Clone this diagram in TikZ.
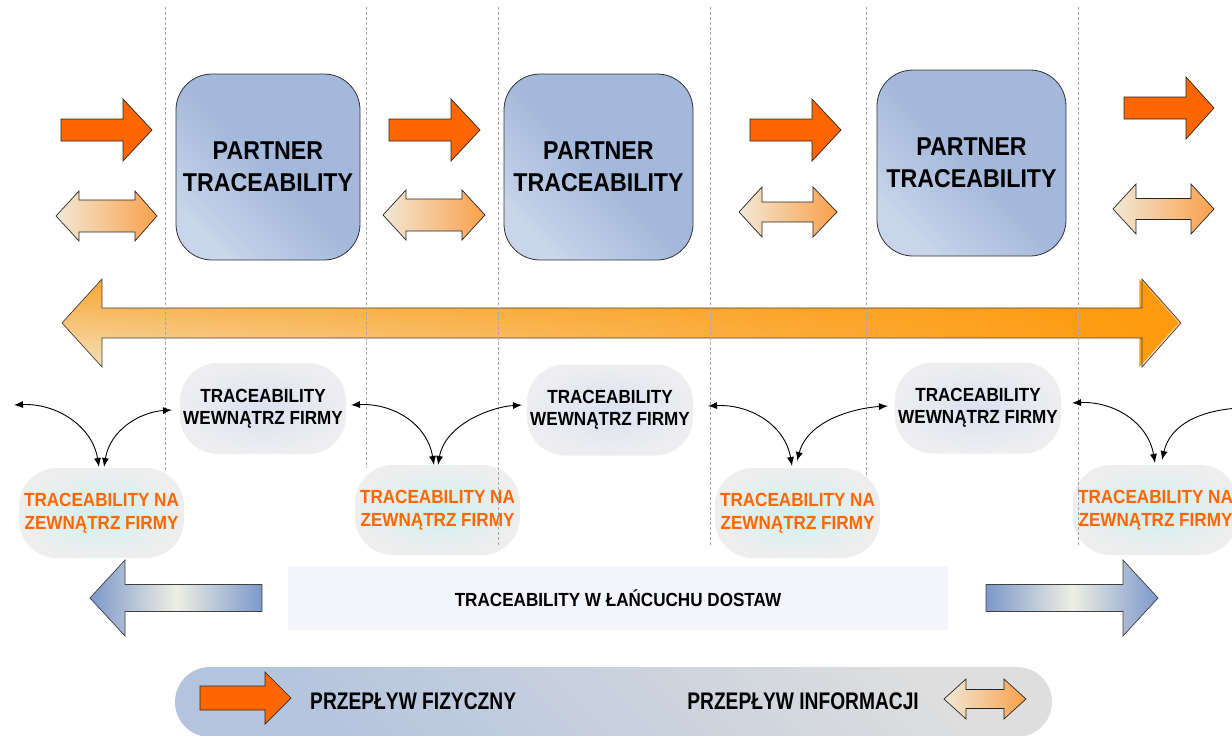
\documentclass[tikz,border=0pt]{standalone}
\usepackage{fontspec}
\setmainfont[FakeStretch=0.9]{Liberation Sans}
\newfontfamily\legfont[FakeStretch=0.8]{Liberation Sans}
\usetikzlibrary{arrows.meta,fadings}
\definecolor{physc}{HTML}{FF6600}
\definecolor{infoL}{HTML}{F2E8D6}
\definecolor{infoR}{HTML}{F9A04A}
\definecolor{bigO}{HTML}{FF9A0C}
\definecolor{bigT}{HTML}{FAA634}
\definecolor{bigC}{HTML}{F4E2BE}
\definecolor{pbtop}{HTML}{A3B8DB}
\definecolor{pbbot}{HTML}{C8D5EA}
\definecolor{wIn}{HTML}{DAE1F1}
\definecolor{wOut}{HTML}{EEEEF0}
\definecolor{nIn}{HTML}{CFF0F0}
\definecolor{nOut}{HTML}{EEEEEE}
\definecolor{blueA}{HTML}{7E98CB}
\definecolor{blueM}{HTML}{EDEFE3}
\definecolor{midfill}{HTML}{F3F5FA}
\definecolor{legBlue}{HTML}{B3C4DE}
\definecolor{legGray}{HTML}{DEDEDE}
\definecolor{sepc}{HTML}{A8A8A8}
\newcommand{\RArr}[7]{\path[#7] (#1,#4-#5) -- (#3,#4-#5) -- (#3,#4-#6) -- (#2,#4) -- (#3,#4+#6) -- (#3,#4+#5) -- (#1,#4+#5) -- cycle;}
\newcommand{\DArr}[8]{\path[#8] (#1,#5) -- (#2,#5-#7) -- (#2,#5-#6) -- (#3,#5-#6) -- (#3,#5-#7) -- (#4,#5) -- (#3,#5+#7) -- (#3,#5+#6) -- (#2,#5+#6) -- (#2,#5+#7) -- cycle;}
\begin{document}
\begin{tikzpicture}[x=1pt,y=-1pt,
  phys/.style={fill=physc, draw=black!85, line width=0.7pt},
  info/.style={left color=infoL, right color=infoR, draw=black!85, line width=0.7pt},
  bigbase/.style={top color=bigT, bottom color=bigC},
  bigover/.style={fill=bigO, path fading=west},
  bigline/.style={draw=black!75, line width=0.7pt},
  bluearr/.style={left color=blueA, right color=blueA, middle color=blueM, draw=black!75, line width=0.7pt},
  sep/.style={draw=sepc, line width=0.8pt, dash pattern=on 3pt off 2pt},
  partner/.style={draw=black!80, line width=0.8pt, rounded corners=36pt, minimum width=189pt, minimum height=186pt, inner sep=0pt, top color=pbtop, bottom color=pbbot, middle color=pbtop, shading angle=-45, align=center, font=\fontsize{25.8}{32}\selectfont\bfseries},
  wbox/.style={rounded corners=38pt, minimum width=166pt, minimum height=91pt, inner sep=0pt, inner color=wIn, outer color=wOut, align=center, font=\fontsize{19}{22}\selectfont\bfseries},
  nbox/.style={rounded corners=38pt, minimum width=165pt, minimum height=90pt, inner sep=0pt, inner color=nIn, outer color=nOut, align=center, text=physc, font=\fontsize{19}{23}\selectfont\bfseries},
  midlab/.style={fill=midfill, minimum width=660pt, minimum height=64pt, inner sep=0pt, font=\fontsize{19}{22}\selectfont\bfseries},
  legbox/.style={rounded corners=35pt, minimum width=877pt, minimum height=70pt, inner sep=0pt, top color=legGray, bottom color=legBlue, shading angle=-45},
  legtext/.style={inner sep=0pt, font=\legfont\fontsize{24}{28}\selectfont\bfseries},
  conn/.style={line width=0.9pt, {Latex[length=9pt,width=7pt]}-{Latex[length=9pt,width=7pt]}},
  conn1/.style={line width=0.9pt, -{Latex[length=9pt,width=7pt]}}
]
\useasboundingbox (0,0) rectangle (1232,736);

% big double arrow
\DArr{62}{102}{1142}{1181}{323}{15}{44}{bigbase}
\DArr{62}{102}{1142}{1181}{323}{15}{44}{bigover}
\DArr{62}{102}{1142}{1181}{323}{15}{44}{bigline}

% physical flow arrows
\RArr{61}{152}{123}{130}{11}{31}{phys}
\RArr{389}{480}{451}{130}{11}{31}{phys}
\RArr{750}{841}{812}{130}{11}{31}{phys}
\RArr{1124}{1214}{1186}{108}{11}{31}{phys}

% information flow arrows
\DArr{56}{79}{135}{157}{216}{16}{25}{info}
\DArr{383}{406}{462}{485}{215}{16}{25}{info}
\DArr{739}{762}{813}{837}{212}{10}{25}{info}
\DArr{1113}{1136}{1191}{1214}{209}{10.5}{25}{info}

% partner boxes
\node[partner, minimum width=184pt] (P1) at (268,167) {PARTNER\\TRACEABILITY};
\node[partner] (P2) at (598.5,167) {PARTNER\\TRACEABILITY};
\node[partner] (P3) at (971.5,163) {PARTNER\\TRACEABILITY};

% internal traceability
\node[wbox] (W1) at (263,408.5) {TRACEABILITY\\WEWNĄTRZ FIRMY};
\node[wbox] (W2) at (610,410) {TRACEABILITY\\WEWNĄTRZ FIRMY};
\node[wbox] (W3) at (978,408) {TRACEABILITY\\WEWNĄTRZ FIRMY};

% external traceability
\node[nbox] (N1) at (101.5,513) {TRACEABILITY NA\\ZEWNĄTRZ FIRMY};
\node[nbox] (N2) at (437.5,510) {TRACEABILITY NA\\ZEWNĄTRZ FIRMY};
\node[nbox] (N3) at (797.5,513) {TRACEABILITY NA\\ZEWNĄTRZ FIRMY};
\node[nbox] (N4) at (1155.5,510) {TRACEABILITY NA\\ZEWNĄTRZ FIRMY};

% separators
\foreach \x/\yb in {165/471, 366/468, 498/545, 710/545, 866/475, 1078/545}
  \draw[sep] (\x,7) -- (\x,\yb);

% connector end points
\coordinate (a0) at (14,405);   \coordinate (a1) at (99,467);
\coordinate (b0) at (172,410);  \coordinate (b1) at (104,467);
\coordinate (c0) at (351,405);  \coordinate (c1) at (434,465);
\coordinate (d0) at (522,405);  \coordinate (d1) at (438,465);
\coordinate (e0) at (708,406);  \coordinate (e1) at (792,466);
\coordinate (f0) at (888,406);  \coordinate (f1) at (797,461);
\coordinate (g0) at (1072,403); \coordinate (g1) at (1155,463);
\coordinate (h0) at (1240,408); \coordinate (h1) at (1162,460);

\draw[conn] (a0) .. controls (55,403) and (92,425) .. (a1);
\draw[conn] (b0) .. controls (140,412) and (110,430) .. (b1);
\draw[conn] (c0) .. controls (392,403) and (427,423) .. (c1);
\draw[conn] (d0) .. controls (490,407) and (445,425) .. (d1);
\draw[conn] (e0) .. controls (750,404) and (785,425) .. (e1);
\draw[conn] (f0) .. controls (855,408) and (808,420) .. (f1);
\draw[conn] (g0) .. controls (1113,401) and (1148,422) .. (g1);
\draw[conn1] (h0) .. controls (1200,410) and (1170,425) .. (h1);

% supply chain band
\RArr{262}{90}{125}{598}{13.5}{38}{bluearr}
\RArr{986}{1158}{1123}{598}{13.5}{38}{bluearr}
\node[midlab] (T) at (618,598) {TRACEABILITY W ŁAŃCUCHU DOSTAW};

% legend
\begin{scope}
\clip (0,0) rectangle (1232,736);
\node[legbox] (L) at (613.5,702) {};
\end{scope}
\RArr{200}{291}{265}{698}{12}{26}{phys}
\node[legtext, anchor=west] (LF) at (310,701) {PRZEPŁYW FIZYCZNY};
\node[legtext, anchor=east] (LI) at (919,701) {PRZEPŁYW INFORMACJI};
\DArr{944}{966}{1004}{1026}{699}{9.5}{20}{info}
\end{tikzpicture}
\end{document}
